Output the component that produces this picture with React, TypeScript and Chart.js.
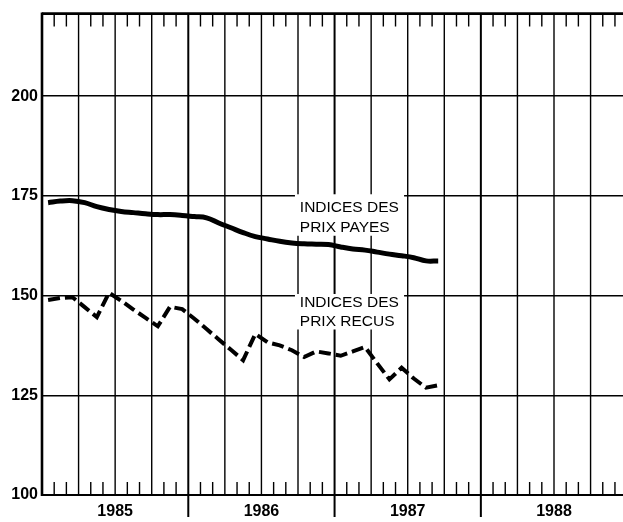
import React, { useEffect, useRef } from "react";
import { Chart, registerables } from "chart.js";

Chart.register(...registerables);

// Monthly observations, January 1985 to September 1987
const MONTHS = [
  "1985-01", "1985-02", "1985-03", "1985-04", "1985-05", "1985-06",
  "1985-07", "1985-08", "1985-09", "1985-10", "1985-11", "1985-12",
  "1986-01", "1986-02", "1986-03", "1986-04", "1986-05", "1986-06",
  "1986-07", "1986-08", "1986-09", "1986-10", "1986-11", "1986-12",
  "1987-01", "1987-02", "1987-03", "1987-04", "1987-05", "1987-06",
  "1987-07", "1987-08", "1987-09",
];

const PRIX_PAYES = [
  173.3, 173.7, 173.8, 173.3, 172.3, 171.6, 171.1, 170.8, 170.5, 170.3, 170.3, 170.1,
  169.8, 169.5, 168.2, 167.0, 165.8, 164.8, 164.2, 163.6, 163.2, 163.0, 162.9, 162.8,
  162.2, 161.7, 161.4, 160.9, 160.4, 160.0, 159.5, 158.7, 158.7,
];

const PRIX_RECUS = [
  148.9, 149.4, 149.6, 147.1, 144.6, 150.7, 148.7, 146.5, 144.4, 142.3, 147.2, 146.6,
  144.2, 141.6, 139.0, 136.4, 133.8, 140.4, 138.3, 137.5, 136.3, 134.6, 136.0, 135.5,
  134.9, 136.0, 137.1, 133.0, 129.0, 131.9, 129.2, 126.9, 127.5,
];

const YEARS = ["1985", "1986", "1987", "1988"];
const Y_TICKS = [100, 125, 150, 175, 200];
const LABEL_PAYES = ["INDICES DES", "PRIX PAYES"];
const LABEL_RECUS = ["INDICES DES", "PRIX RECUS"];

const FONT = "Arial, Helvetica, sans-serif";

const gridPlugin = {
  id: "customGrid",
  beforeDatasetsDraw(chart: any) {
    const { ctx, chartArea, scales } = chart;
    const xs = scales.x;
    const { left, right, top, bottom } = chartArea;
    ctx.save();
    ctx.strokeStyle = "#000";
    const mMin = Math.ceil(xs.min);
    const mMax = Math.floor(xs.max);
    for (let m = Math.max(1, mMin); m <= mMax; m++) {
      const px = xs.getPixelForValue(m);
      ctx.beginPath();
      if (m % 12 === 0) {
        ctx.lineWidth = 2;
        ctx.moveTo(px, top);
        ctx.lineTo(px, bottom + 22);
      } else if (m % 3 === 0) {
        ctx.lineWidth = 1.4;
        ctx.moveTo(px, top);
        ctx.lineTo(px, bottom);
      } else {
        ctx.lineWidth = 1.4;
        ctx.moveTo(px, top);
        ctx.lineTo(px, top + 13);
        ctx.moveTo(px, bottom);
        ctx.lineTo(px, bottom - 13);
      }
      ctx.stroke();
    }
    // frame: top, left, bottom
    ctx.lineWidth = 2.6;
    ctx.beginPath();
    ctx.moveTo(left, top);
    ctx.lineTo(right, top);
    ctx.stroke();
    ctx.beginPath();
    ctx.moveTo(left, top - 1);
    ctx.lineTo(left, bottom + 1);
    ctx.stroke();
    ctx.lineWidth = 2.2;
    ctx.beginPath();
    ctx.moveTo(left, bottom);
    ctx.lineTo(right, bottom);
    ctx.stroke();

    // label boxes and text
    const ys = scales.y;
    const drawLabel = (lines: string[], x0: number, x1: number, yTop: number, yBot: number, b1: number, b2: number, tx: number) => {
      const l = xs.getPixelForValue(x0);
      const r = xs.getPixelForValue(x1);
      const t = ys.getPixelForValue(yTop);
      const bt = ys.getPixelForValue(yBot);
      ctx.fillStyle = "#fff";
      ctx.fillRect(l, t, r - l, bt - t);
      ctx.fillStyle = "#000";
      ctx.font = `15.5px ${FONT}`;
      ctx.textAlign = "left";
      ctx.textBaseline = "alphabetic";
      const txp = xs.getPixelForValue(tx);
      ctx.fillText(lines[0], txp, ys.getPixelForValue(b1));
      ctx.fillText(lines[1], txp, ys.getPixelForValue(b2));
    };
    drawLabel(LABEL_PAYES, 20.75, 29.7, 175.4, 165.0, 171.0, 166.0, 21.15);
    drawLabel(LABEL_RECUS, 20.75, 29.7, 150.4, 141.5, 147.2, 142.3, 21.15);
    ctx.restore();
  },
};

export default function App() {
  const ref = useRef<HTMLCanvasElement | null>(null);

  useEffect(() => {
    if (!ref.current) return;
    const toPoints = (vals: number[]) =>
      MONTHS.map((_, i) => ({ x: i + 0.5, y: vals[i] }));

    const chart = new Chart(ref.current, {
      type: "line",
      data: {
        datasets: [
          {
            label: "Indices des prix payés",
            data: toPoints(PRIX_PAYES),
            borderColor: "#000",
            borderWidth: 5,
            pointRadius: 0,
            tension: 0.4,
            fill: false,
          },
          {
            label: "Indices des prix reçus",
            data: toPoints(PRIX_RECUS),
            borderColor: "#000",
            borderWidth: 4,
            borderDash: [12, 5],
            pointRadius: 0,
            tension: 0,
            fill: false,
          },
        ],
      },
      options: {
        animation: false,
        responsive: false,
        maintainAspectRatio: false,
        devicePixelRatio: 1,
        layout: { padding: { top: 9, left: 0, right: 0, bottom: 0 } },
        plugins: {
          legend: { display: false },
          tooltip: { enabled: false },
        },
        scales: {
          x: {
            type: "linear",
            min: 0,
            max: 47.66,
            grid: { display: false, drawTicks: false },
            border: { display: false },
            afterBuildTicks: (scale: any) => {
              scale.ticks = YEARS.map((_, i) => ({ value: i * 12 + 6 }));
            },
            afterFit: (scale: any) => {
              scale.height = 27;
            },
            ticks: {
              autoSkip: false,
              maxRotation: 0,
              padding: 7,
              color: "#000",
              font: { family: FONT, size: 16, weight: 700 },
              callback: (v: any) => YEARS[Math.round((Number(v) - 6) / 12)] ?? "",
            },
          },
          y: {
            type: "linear",
            min: 100,
            max: 220.7,
            afterBuildTicks: (scale: any) => {
              scale.ticks = Y_TICKS.map((v) => ({ value: v }));
            },
            afterFit: (scale: any) => {
              scale.width = 42;
            },
            grid: { display: true, drawTicks: false, color: "#000", lineWidth: 1.4 },
            border: { display: false },
            ticks: {
              padding: 4,
              color: "#000",
              font: { family: FONT, size: 16, weight: 700 },
            },
          },
        },
      },
      plugins: [gridPlugin],
    });
    return () => chart.destroy();
  }, []);

  return (
    <canvas
      ref={ref}
      width={623}
      height={522}
      style={{ position: "absolute", left: 0, top: 0, width: 623, height: 522, background: "#fff" }}
    />
  );
}
